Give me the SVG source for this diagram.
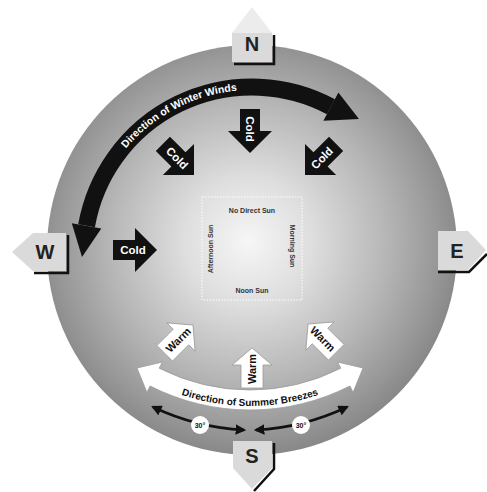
<svg xmlns="http://www.w3.org/2000/svg" width="487" height="492" viewBox="0 0 487 492">
<style>
text{font-family:"Liberation Sans",Arial,sans-serif;font-weight:bold}
.cmp{fill:#dadada}
.roof{fill:#ececec}
.shd{fill:none;stroke:#111;stroke-width:2.5}
.letter{font-size:20px;fill:#222;text-anchor:middle}
.blk{fill:#111}
.ct{fill:#fff;font-size:11.5px;text-anchor:middle}
.wht{fill:#fff;stroke:#9a9a9a;stroke-width:0.8}
.wt{fill:#111;font-size:11px;text-anchor:middle}
.sq{font-size:7px;fill:#333;text-anchor:middle}
.thin{fill:none;stroke:#111;stroke-width:2.5;marker-start:url(#ah);marker-end:url(#ah)}
</style>
<defs>
<radialGradient id="bg" cx="0.49" cy="0.48" r="0.52">
<stop offset="0" stop-color="#f6f6f6"/>
<stop offset="0.3" stop-color="#dedede"/>
<stop offset="0.65" stop-color="#b6b6b6"/>
<stop offset="0.9" stop-color="#969696"/>
<stop offset="1" stop-color="#888888"/>
</radialGradient>
<polygon id="cold" points="-44,-10 -22,-10 -22,-22 0,0 -22,22 -22,10 -44,10"/>
<polygon id="warm" points="-40,-11 -17,-11 -17,-20 0,0 -17,20 -17,11 -40,11"/>
<marker id="ah" viewBox="0 0 10 10" refX="8" refY="5" markerWidth="4.2" markerHeight="4.2" orient="auto-start-reverse" markerUnits="strokeWidth">
<path d="M0,0 L10,5 L0,10 Z" fill="#111"/>
</marker>
<path id="wpath" d="M89.5,226.35 A165,165 0 0,1 334.5,112.1"/>
<path id="spath" d="M126.1,366.9 A216,216 0 0,0 373.9,366.9"/>
</defs>

<g id="disc">
<circle cx="252" cy="250" r="205" fill="url(#bg)"/>
</g>

<g id="center-square">
<rect x="202" y="197" width="100" height="103" fill="none" stroke="#fff" stroke-width="1" stroke-dasharray="1.5 1.5"/>
<text class="sq" x="252" y="213">No Direct Sun</text>
<text class="sq" x="252" y="293">Noon Sun</text>
<text class="sq" transform="translate(213,249) rotate(-90)">Afternoon Sun</text>
<text class="sq" transform="translate(290,246) rotate(90)">Morning Sun</text>
</g>

<g id="connectors">
<g id="winter-winds">
<path d="M86.55,225.83 A168,168 0 0,1 331,106.7" fill="none" stroke="#111" stroke-width="17"/>
<polygon class="blk" points="71.8,223.2 101.3,228.4 82,257"/>
<polygon class="blk" points="338.4,92.6 359,119 323.4,120.8"/>
<text fill="#fff" font-size="10.5px" text-anchor="middle"><textPath href="#wpath" startOffset="151">Direction of Winter Winds</textPath></text>
</g>
<g id="summer-breezes">
<path d="M137,368 L162.4,362 L159.2,368.2 A200,200 0 0,0 340.8,368.2 L337.6,362 L363,368 L353.1,392.3 L349.9,386 A220,220 0 0,1 150.1,386 L146.9,392.3 Z" fill="#fff" stroke="#9a9a9a" stroke-width="0.8"/>
<text fill="#111" font-size="10px" text-anchor="middle"><textPath href="#spath" startOffset="50%">Direction of Summer Breezes</textPath></text>
</g>
<g id="angle-left">
<path class="thin" d="M153,407 A240,240 0 0,0 244,430"/>
</g>
<g id="angle-right">
<path class="thin" d="M347,407 A240,240 0 0,1 256,430"/>
</g>
</g>

<g id="angle-label-left">
<circle cx="200" cy="425" r="9" fill="#fff"/>
<text x="200" y="428" font-size="7px" fill="#111" text-anchor="middle">30°</text>
</g>
<g id="angle-label-right">
<circle cx="301" cy="425" r="9" fill="#fff"/>
<text x="301" y="428" font-size="7px" fill="#111" text-anchor="middle">30°</text>
</g>

<g id="cold-n" transform="translate(250,153) rotate(90)">
<use href="#cold" class="blk"/>
<text class="ct" x="-24" y="4">Cold</text>
</g>
<g id="cold-nw" transform="translate(194,175) rotate(45)">
<use href="#cold" class="blk"/>
<text class="ct" x="-24" y="4">Cold</text>
</g>
<g id="cold-ne" transform="translate(305,175) rotate(135)">
<use href="#cold" class="blk"/>
<text class="ct" transform="rotate(180 -24 0)" x="-24" y="4">Cold</text>
</g>
<g id="cold-w" transform="translate(157,250)">
<use href="#cold" class="blk"/>
<text class="ct" x="-24" y="4">Cold</text>
</g>

<g id="warm-s" transform="translate(252,348) rotate(-90)">
<use href="#warm" class="wht"/>
<text class="wt" x="-21" y="4">Warm</text>
</g>
<g id="warm-sw" transform="translate(193,325) rotate(-45)">
<use href="#warm" class="wht"/>
<text class="wt" x="-21" y="4">Warm</text>
</g>
<g id="warm-se" transform="translate(308,324) rotate(-135)">
<use href="#warm" class="wht"/>
<text class="wt" transform="rotate(180 -21 0)" x="-21" y="4">Warm</text>
</g>

<g id="north">
<polygon class="cmp" points="232,62 232,33 272,33 272,62"/>
<polygon class="roof" points="232,33 252,7 272,33"/>
<polyline class="shd" points="274,35 274,64 234,64"/>
<text class="letter" x="252" y="51">N</text>
</g>
<g id="west">
<polygon class="cmp" points="66,233 33,233 12,252 33,271 66,271"/>
<polyline class="shd" points="68,235 68,273 34,273"/>
<text class="letter" x="45" y="259" font-size="21px">W</text>
</g>
<g id="east">
<polygon class="cmp" points="438,231 468,231 486,250 468,270 438,270"/>
<polyline class="shd" points="438,272 469,272 487,254"/>
<text class="letter" x="457" y="258">E</text>
</g>
<g id="south">
<polygon class="cmp" points="233,441 272,441 272,468 252,489 233,468"/>
<polyline class="shd" points="274,443 274,469 254,491"/>
<text class="letter" x="252" y="463" font-size="18px">S</text>
</g>
</svg>
